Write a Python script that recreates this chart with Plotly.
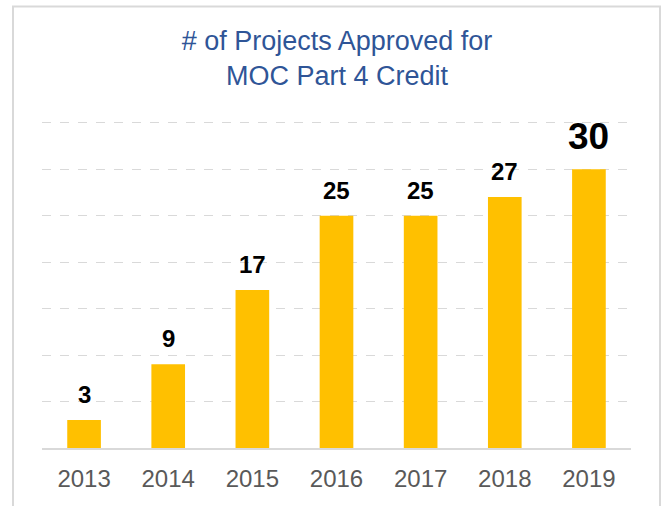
import plotly.graph_objects as go

years = ["2013", "2014", "2015", "2016", "2017", "2018", "2019"]
projects = [3, 9, 17, 25, 25, 27, 30]
label_sizes = [24, 24, 24, 24, 24, 24, 37]

BAR = "#FFC000"
GRID = "#D9D9D9"
FONT = "Liberation Sans, Arial, sans-serif"

fig = go.Figure()
fig.add_trace(go.Bar(
    x=years, y=projects, marker=dict(color=BAR, line=dict(width=0)),
    width=0.4, hoverinfo="x+y",
))

# annotations on a category axis use the category index
for i, (v, s) in enumerate(zip(projects, label_sizes)):
    fig.add_annotation(
        x=i, y=v, text=f"<b>{v}</b>", showarrow=False,
        yanchor="bottom", yshift=10,
        font=dict(family=FONT, size=s, color="#000000"),
    )

fig.update_layout(
    width=665, height=506,
    margin=dict(l=42, r=34, t=120, b=58),
    paper_bgcolor="white", plot_bgcolor="white",
    showlegend=False,
    title=dict(
        text="# of Projects Approved for<br>MOC Part 4 Credit",
        x=337 / 665, xanchor="center", y=1 - 50 / 506, yanchor="top", yref="container",
        font=dict(family=FONT, size=27, color="#2F5597"),
    ),
    xaxis=dict(
        type="category", categoryorder="array", categoryarray=years,
        showgrid=False, showline=True, linecolor=GRID, linewidth=2,
        ticks="", ticklabelstandoff=8,
        tickfont=dict(family=FONT, size=24, color="#595959"),
    ),
    yaxis=dict(
        range=[0, 35.3], dtick=5, showticklabels=False, showgrid=True,
        gridcolor=GRID, griddash="dash", gridwidth=1, zeroline=False, showline=False,
    ),
    shapes=[dict(
        type="rect", xref="paper", yref="paper",
        x0=(13 - 42) / 589, x1=(660 - 42) / 589, y0=-0.25, y1=(448 - 6.5) / 328,
        line=dict(color=GRID, width=2), fillcolor="rgba(0,0,0,0)", layer="below",
    )],
)

fig.write_html("out.html", config={"displayModeBar": False},
               post_script="document.body.style.margin='0';")
